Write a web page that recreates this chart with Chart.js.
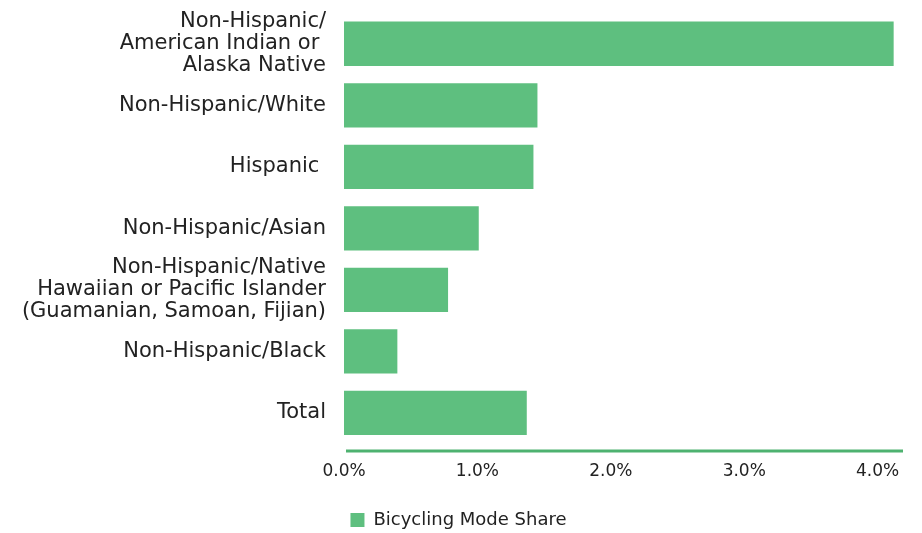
<!DOCTYPE html>
<html>
<head>
<meta charset="utf-8">
<script src="https://cdn.jsdelivr.net/npm/chart.js@4"></script>
<style>
  html, body { margin: 0; padding: 0; background: #fff; }
  #wrap { width: 922px; height: 533px; }
</style>
</head>
<body>
<div id="wrap"><canvas id="chart"></canvas></div>
<script>
const groups = [
    ['Non-Hispanic/', 'American Indian or ', 'Alaska Native'],
    'Non-Hispanic/White',
    'Hispanic ',
    'Non-Hispanic/Asian',
    ['Non-Hispanic/Native', 'Hawaiian or Pacific Islander', '(Guamanian, Samoan, Fijian)'],
    'Non-Hispanic/Black',
    'Total'
];
const bikeShare = [4.12, 1.45, 1.42, 1.01, 0.78, 0.40, 1.37];
const xTicks = [0, 1, 2, 3, 4];

const barGreen = 'rgb(94, 191, 127)';
const fontFamily = "'DejaVu Sans', sans-serif";

// the axis line sits a few px under the last bar row
const axisLine = {
    id: 'axisLine',
    afterDraw(chart) {
        const { ctx, chartArea } = chart;
        ctx.save();
        ctx.strokeStyle = 'rgb(78, 178, 112)';
        ctx.lineWidth = 3;
        ctx.beginPath();
        ctx.moveTo(chartArea.left + 2, chartArea.bottom + 7.5);
        ctx.lineTo(chartArea.right, chartArea.bottom + 7.5);
        ctx.stroke();
        ctx.restore();
    }
};

const ctx = document.getElementById('chart').getContext('2d');
new Chart(ctx, {
    type: 'bar',
    data: {
        labels: groups,
        datasets: [{
            label: 'Bicycling Mode Share',
            data: bikeShare,
            backgroundColor: barGreen,
            borderWidth: 0
        }]
    },
    options: {
        indexAxis: 'y',
        responsive: true,
        maintainAspectRatio: false,
        animation: false,
        layout: {
            padding: { top: 13, right: 5, bottom: -6, left: 0 }
        },
        scales: {
            x: {
                min: 0,
                max: 4.19,
                afterBuildTicks: (scale) => {
                    scale.ticks = xTicks.map(v => ({ value: v }));
                },
                afterFit: (scale) => {
                    scale.paddingLeft = 0;
                    scale.paddingRight = 19;
                    scale.height += 4;
                },
                grid: { display: false, drawTicks: false },
                border: { display: false },
                ticks: {
                    padding: 18,
                    color: '#222',
                    font: { family: fontFamily, size: 17 },
                    callback: (v) => Number(v).toFixed(1) + '%'
                }
            },
            y: {
                afterFit: (scale) => {
                    scale.width = 344;
                    scale.paddingTop = 0;
                    scale.paddingBottom = 0;
                },
                grid: { display: false, drawTicks: false },
                border: { display: false },
                ticks: {
                    autoSkip: false,
                    padding: 18,
                    color: '#222',
                    font: { family: fontFamily, size: 21, lineHeight: 1.05 }
                }
            }
        },
        plugins: {
            legend: {
                position: 'bottom',
                labels: {
                    boxWidth: 14,
                    boxHeight: 14,
                    padding: 7,
                    color: '#222',
                    font: { family: fontFamily, size: 18 }
                }
            },
            tooltip: { enabled: false }
        }
    },
    plugins: [axisLine]
});
</script>
</body>
</html>
